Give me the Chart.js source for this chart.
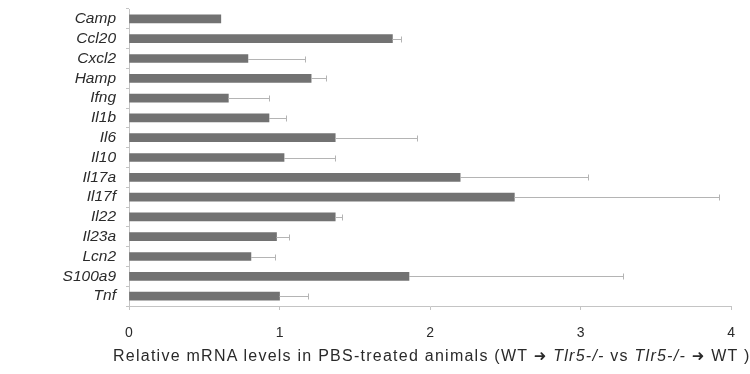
<!DOCTYPE html>
<html>
<head>
<meta charset="utf-8">
<script src="https://cdn.jsdelivr.net/npm/chart.js@4/dist/chart.umd.min.js"></script>
<style>
    html, body { margin: 0; padding: 0; background: #fff; }
    #wrap { position: relative; width: 750px; height: 374px; }
    #xtitle {
        position: absolute; left: 113px; top: 347px; white-space: nowrap;
        font-family: 'Liberation Sans', Arial, sans-serif; font-size: 16px; color: #2a2a2a;
        letter-spacing: 1.25px;
    }
    #xtitle i { font-style: italic; }
    .arr { font-family: 'DejaVu Sans', sans-serif; font-size: 15px; }
</style>
</head>
<body>
<div id="wrap">
    <canvas id="chart" width="750" height="374"></canvas>
    <div id="xtitle">Relative mRNA levels in PBS-treated animals (WT <span class="arr">➜</span> <i>Tlr5-/-</i> vs <i>Tlr5-/-</i> <span class="arr">➜</span> WT )</div>
</div>
<script>
// Data
const genes = ['Camp', 'Ccl20', 'Cxcl2', 'Hamp', 'Ifng', 'Il1b', 'Il6', 'Il10',
    'Il17a', 'Il17f', 'Il22', 'Il23a', 'Lcn2', 'S100a9', 'Tnf'];
const levels = [0.61, 1.75, 0.79, 1.21, 0.66, 0.93, 1.37, 1.03,
    2.20, 2.56, 1.37, 0.98, 0.81, 1.86, 1.00];
const upperErr = [0.61, 1.81, 1.17, 1.31, 0.93, 1.04, 1.91, 1.37,
    3.05, 3.92, 1.415, 1.06, 0.97, 3.28, 1.19];
const xTicks = [0, 1, 2, 3, 4];

const colors = {
    bar: '#727272',
    err: '#b4b4b4',
    axis: '#c4c4c4',
    text: '#2a2a2a'
};

// simple one-sided error bars, drawn through the chart scales
const errorBars = {
    id: 'errorBars',
    afterDatasetsDraw(chart) {
        const ctx = chart.ctx;
        const xs = chart.scales.x, ys = chart.scales.y;
        ctx.save();
        ctx.strokeStyle = colors.err;
        ctx.lineWidth = 1;
        upperErr.forEach((e, i) => {
            if (e <= levels[i]) return;
            const y = Math.round(ys.getPixelForValue(i)) + 0.5;
            const x0 = xs.getPixelForValue(levels[i]);
            const x1 = Math.round(xs.getPixelForValue(e)) + 0.5;
            ctx.beginPath();
            ctx.moveTo(x0, y);
            ctx.lineTo(x1, y);
            ctx.moveTo(x1, y - 3);
            ctx.lineTo(x1, y + 3);
            ctx.stroke();
        });
        ctx.restore();
    }
};

document.addEventListener('DOMContentLoaded', () => {
    const ctx = document.getElementById('chart').getContext('2d');
    Chart.defaults.font.family = "'Liberation Sans', Arial, sans-serif";
    Chart.defaults.color = colors.text;

    new Chart(ctx, {
        type: 'bar',
        data: {
            labels: genes,
            datasets: [{
                data: levels,
                backgroundColor: colors.bar,
                barThickness: 8,
                borderWidth: 0
            }]
        },
        options: {
            indexAxis: 'y',
            responsive: false,
            animation: false,
            layout: { padding: { top: 9, right: 17, left: 0, bottom: 0 } },
            plugins: { legend: { display: false }, tooltip: { enabled: false } },
            scales: {
                x: {
                    min: 0, max: 4,
                    afterFit: s => { s.height = 68; },
                    afterBuildTicks: s => { s.ticks = xTicks.map(v => ({ value: v })); },
                    grid: { drawOnChartArea: false, drawTicks: true, tickLength: 4, color: colors.axis },
                    border: { color: colors.axis },
                    ticks: { font: { size: 14 }, padding: 15, maxRotation: 0 }
                },
                y: {
                    afterFit: s => { s.width = 129; s.paddingTop = 0; s.paddingBottom = 0; },
                    grid: { drawOnChartArea: false, drawTicks: true, tickLength: 3, color: colors.axis },
                    border: { color: colors.axis },
                    ticks: { font: { size: 15.5, style: 'italic', lineHeight: 1 }, padding: 10, autoSkip: false }
                }
            }
        },
        plugins: [errorBars]
    });
});
</script>
</body>
</html>
